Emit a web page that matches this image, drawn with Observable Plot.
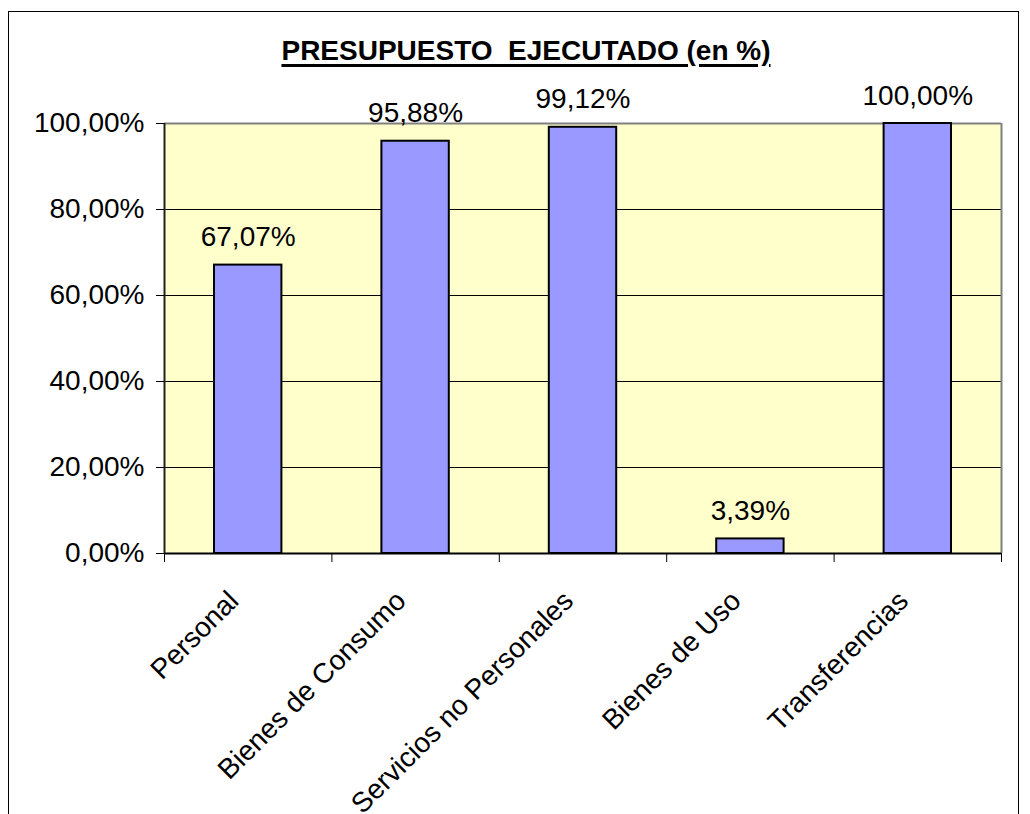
<!DOCTYPE html>
<html>
<head>
<meta charset="utf-8">
<script src="https://cdn.jsdelivr.net/npm/d3@7"></script>
<script src="https://cdn.jsdelivr.net/npm/@observablehq/plot@0.6"></script>
<style>
  html, body { margin: 0; padding: 0; background: #fff; }
  #wrap { position: relative; width: 1030px; height: 814px; overflow: hidden; font-family: "Liberation Sans", Arial, sans-serif; }
  #border { position: absolute; left: 8px; top: 11px; width: 1011px; height: 900px; border: 1px solid #000; box-sizing: border-box; }
  #title { position: absolute; left: 0; top: 37px; width: 1052px; text-align: center; font: bold 28px/28px "Liberation Sans", Arial, sans-serif; text-decoration: underline; text-decoration-thickness: 3px; text-underline-offset: 4px; color: #000; }
  #chart { position: absolute; left: 0; top: 0; }
</style>
</head>
<body>
<div id="wrap">
  <div id="border"></div>
  <div id="chart"></div>
  <div id="title">PRESUPUESTO&nbsp; EJECUTADO (en %)</div>
</div>
<script>
const categories = ["Personal", "Bienes de Consumo", "Servicios no Personales", "Bienes de Uso", "Transferencias"];
const values = [67.07, 95.88, 99.12, 3.39, 100.00];
const valueLabels = ["67,07%", "95,88%", "99,12%", "3,39%", "100,00%"];
const yTicks = [0, 20, 40, 60, 80, 100];
const gridLines = [20, 40, 60, 80];

const data = categories.map((c, i) => ({i, name: c, value: values[i], label: valueLabels[i]}));
const fmt = d => d.toFixed(2).replace(".", ",") + "%";
const FS = 28;

const chart = Plot.plot({
  width: 1030,
  height: 814,
  marginLeft: 164,
  marginRight: 29,
  marginTop: 123,
  marginBottom: 261,
  style: {fontFamily: '"Liberation Sans", Arial, sans-serif', background: "transparent", overflow: "visible"},
  x: {type: "linear", domain: [0, categories.length]},
  y: {domain: [0, 100]},
  marks: [
    Plot.frame({fill: "#ffffcc", stroke: null}),
    Plot.ruleY(gridLines, {stroke: "#000", strokeWidth: 1}),
    Plot.ruleY([100], {stroke: "#808080", strokeWidth: 2}),
    Plot.ruleX([categories.length], {stroke: "#808080", strokeWidth: 2}),
    Plot.rectY(data, {x1: d => d.i, x2: d => d.i + 1, y: "value", fill: "#9999ff", stroke: "#000", strokeWidth: 2, insetLeft: 50, insetRight: 50}),
    Plot.ruleY([0], {stroke: "#000", strokeWidth: 2}),
    Plot.ruleX([0], {stroke: "#222", strokeWidth: 2}),
    Plot.axisY({ticks: yTicks, tickFormat: fmt, tickSize: 8, tickPadding: 12, fontSize: FS, stroke: "#000", color: "#000", label: null}),
    Plot.axisX({ticks: d3.range(categories.length + 1), tickSize: 9, tickFormat: () => "", stroke: "#000", label: null}),
    Plot.text(data, {x: d => d.i + 0.5, y: "value", text: "label", lineAnchor: "bottom", dy: -19, fontSize: FS, fill: "#000"}),
    Plot.text(data, {x: d => d.i + 0.5, y: 0, text: "name", rotate: -45, textAnchor: "end", lineAnchor: "bottom", dx: -8, dy: 49, fontSize: FS, fill: "#000"})
  ]
});
document.getElementById("chart").appendChild(chart);
</script>
</body>
</html>
